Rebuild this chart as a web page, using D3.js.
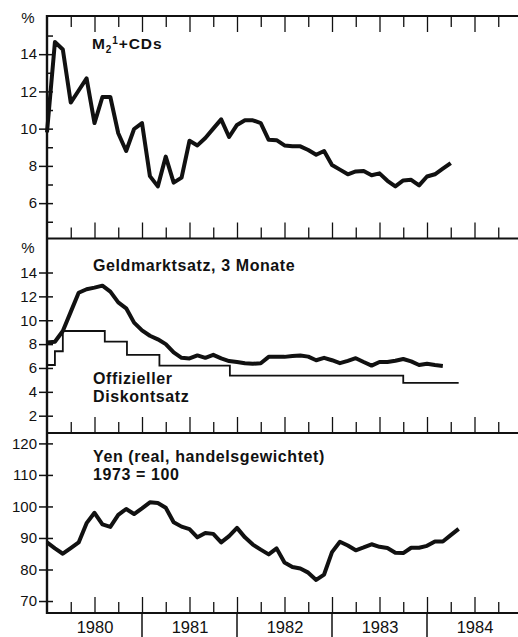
<!DOCTYPE html>
<html lang="de">
<head>
<meta charset="UTF-8">
<title>Japan: Geldmenge, Zinsen, Yen</title>
<script src="https://cdn.jsdelivr.net/npm/d3@7"></script>
<style>
    body { margin: 0; padding: 0; background: #fff; }
    svg { display: block; font-family: "Liberation Sans", Arial, Helvetica, sans-serif; }
    .lbl { font-size: 16px; font-weight: bold; letter-spacing: 0.6px; fill: #111; }
    .axis text { font-size: 15px; fill: #111; font-family: "Liberation Sans", Arial, sans-serif; }
</style>
</head>
<body>
<div id="chart"></div>
<script>
// monthly values, Jan 1980 = month 0
const m2cds = [9.8, 14.65, 14.25, 11.4, 12.05, 12.7, 10.3, 11.7, 11.7, 9.75, 8.8, 9.98,
               10.3, 7.45, 6.9, 8.5, 7.1, 7.37, 9.35, 9.1, 9.5, 10.0, 10.5, 9.55,
               10.2, 10.45, 10.45, 10.3, 9.4, 9.38, 9.1, 9.05, 9.05, 8.85, 8.6, 8.8,
               8.05, 7.8, 7.55, 7.7, 7.73, 7.5, 7.6, 7.2, 6.9, 7.22, 7.25, 6.95,
               7.43, 7.55, 7.85, 8.15];
const geldmarkt = [8.13, 8.2, 9.1, 10.7, 12.3, 12.6, 12.73, 12.9, 12.4, 11.5, 11.0, 9.8,
                   9.15, 8.7, 8.4, 8.0, 7.3, 6.85, 6.8, 7.05, 6.85, 7.1, 6.8, 6.58,
                   6.5, 6.4, 6.35, 6.4, 6.93, 6.93, 6.93, 7.0, 7.05, 6.95, 6.65, 6.85,
                   6.65, 6.4, 6.6, 6.82, 6.5, 6.2, 6.5, 6.5, 6.6, 6.75, 6.55, 6.25,
                   6.35, 6.25, 6.17];
const diskontMonth = [0, 1, 2, 7.3, 10.1, 14.2, 23.1, 45, 52];
const diskontRate = [6.25, 7.4, 9.1, 8.2, 7.1, 6.2, 5.35, 4.75, 4.75];
const yen = [88.6, 86.7, 85.0, 86.8, 88.6, 94.7, 98.0, 94.3, 93.5, 97.3, 99.2, 97.6,
             99.4, 101.3, 101.1, 99.6, 95.0, 93.6, 92.8, 90.2, 91.6, 91.3, 88.6, 90.6,
             93.2, 90.2, 87.9, 86.3, 84.8, 86.7, 82.2, 80.8, 80.3, 79.0, 76.7, 78.4,
             85.5, 88.8, 87.6, 86.1, 87.0, 88.0, 87.2, 86.8, 85.3, 85.2, 86.9, 86.9,
             87.5, 88.9, 88.9, 90.9, 92.9];

const years = ["1980", "1981", "1982", "1983", "1984"];
const m2Ticks = [6, 8, 10, 12, 14];
const m2Minor = [5, 7, 9, 11, 13, 15];
const rateTicks = [2, 4, 6, 8, 10, 12, 14];
const yenTicks = [70, 80, 90, 100, 110, 120];

const W = 518, H = 637;
const ink = "#111";

const svg = d3.select("#chart").append("svg").attr("width", W).attr("height", H);

const x = d3.scaleLinear().domain([0, 60]).range([47, 522]);
const y1 = d3.scaleLinear().domain([4.1, 16.05]).range([238.5, 16]);
const y2 = d3.scaleLinear().domain([0.55, 16.85]).range([433, 238.5]);
const y3 = d3.scaleLinear().domain([66.2, 123.3]).range([613, 433]);

const quarters = d3.range(3, 60, 6);   // Apr, Oct
const halves = d3.range(6, 60, 6);     // Jul, Jan

// vertical (y) axis for a panel
function yAxis(scale, ticks, minor) {
    const g = svg.append("g").attr("class", "axis").attr("transform", "translate(47,0)");
    g.call(d3.axisLeft(scale).tickValues(ticks).tickSize(8).tickPadding(2).tickFormat(d3.format("d")))
        .call(a => a.select(".domain").remove())
        .call(a => a.selectAll(".tick line").attr("x2", -8).attr("x1", 6).attr("stroke", ink).attr("stroke-width", 1.5));
    if (minor) {
        svg.append("g").attr("transform", "translate(47,0)")
            .call(d3.axisLeft(scale).tickValues(minor).tickSize(-6).tickFormat(""))
            .call(a => a.select(".domain").remove())
            .call(a => a.selectAll(".tick line").attr("stroke", ink).attr("stroke-width", 1.5));
    }
}

// time ticks pointing into the panel
function xTicks(yPos, dir) {
    [[quarters, 11], [halves, 16]].forEach(([vals, len]) => {
        const ax = dir === "top" ? d3.axisTop(x) : d3.axisBottom(x);
        svg.append("g").attr("transform", `translate(0,${yPos})`)
            .call(ax.tickValues(vals).tickSize(-len).tickFormat(""))
            .call(a => a.select(".domain").remove())
            .call(a => a.selectAll(".tick line").attr("stroke", ink).attr("stroke-width", 1.3));
    });
}

xTicks(16, "top");
xTicks(238.5, "bottom");
xTicks(433, "bottom");
xTicks(613, "bottom");

yAxis(y1, m2Ticks, m2Minor);
yAxis(y2, rateTicks);
yAxis(y3, yenTicks);

// frame lines
[16, 238.5, 433, 613].forEach(v => {
    svg.append("line").attr("x1", 46).attr("x2", W).attr("y1", v).attr("y2", v)
        .attr("stroke", ink).attr("stroke-width", 2.2);
});
svg.append("line").attr("x1", 47).attr("x2", 47).attr("y1", 15).attr("y2", 614)
    .attr("stroke", ink).attr("stroke-width", 2.4);

// year dividers and labels below the bottom axis
svg.append("g").selectAll("line").data(d3.range(12, 60, 12)).join("line")
    .attr("x1", d => x(d)).attr("x2", d => x(d))
    .attr("y1", 613).attr("y2", H)
    .attr("stroke", ink).attr("stroke-width", 1.5);
svg.append("g").attr("class", "axis").attr("transform", "translate(0,613)")
    .call(d3.axisBottom(x).tickValues(years.map((d, i) => 6 + 12 * i)).tickSize(0).tickPadding(8)
        .tickFormat((d, i) => years[i]))
    .call(a => a.select(".domain").remove())
    .call(a => a.selectAll("text").style("font-size", "16.5px"));

// series
const line = scale => d3.line().x((d, i) => x(i)).y(d => scale(d)).curve(d3.curveLinear);

svg.append("path").datum(m2cds).attr("d", line(y1))
    .attr("fill", "none").attr("stroke", ink).attr("stroke-width", 4).attr("stroke-linejoin", "round");

svg.append("path")
    .datum(diskontMonth.map((m, i) => [m, diskontRate[i]]))
    .attr("d", d3.line().x(d => x(d[0])).y(d => y2(d[1])).curve(d3.curveStepAfter))
    .attr("fill", "none").attr("stroke", ink).attr("stroke-width", 1.8);

svg.append("path").datum(geldmarkt).attr("d", line(y2))
    .attr("fill", "none").attr("stroke", ink).attr("stroke-width", 4).attr("stroke-linejoin", "round");

svg.append("path").datum(yen).attr("d", line(y3))
    .attr("fill", "none").attr("stroke", ink).attr("stroke-width", 4).attr("stroke-linejoin", "round");

// labels
svg.append("text").attr("x", 28).attr("y", 23).attr("text-anchor", "middle")
    .style("font-size", "15px").attr("fill", ink).text("%");
svg.append("text").attr("x", 28).attr("y", 253).attr("text-anchor", "middle")
    .style("font-size", "15px").attr("fill", ink).text("%");

const m2 = svg.append("text").attr("class", "lbl").attr("x", 92).attr("y", 48.5)
    .style("font-size", "15.5px").style("letter-spacing", "0.9px");
m2.append("tspan").text("M");
m2.append("tspan").attr("dy", 4).style("font-size", "10px").text("2");
m2.append("tspan").attr("dy", -9).style("font-size", "10px").text("1");
m2.append("tspan").attr("dy", 5).text("+CDs");

svg.append("text").attr("class", "lbl").attr("x", 93).attr("y", 271).text("Geldmarktsatz, 3 Monate");
svg.append("text").attr("class", "lbl").attr("x", 93).attr("y", 384).text("Offizieller");
svg.append("text").attr("class", "lbl").attr("x", 93).attr("y", 402).text("Diskontsatz");
svg.append("text").attr("class", "lbl").attr("x", 93).attr("y", 462).text("Yen (real, handelsgewichtet)");
svg.append("text").attr("class", "lbl").attr("x", 93).attr("y", 480).text("1973 = 100");
</script>
</body>
</html>
